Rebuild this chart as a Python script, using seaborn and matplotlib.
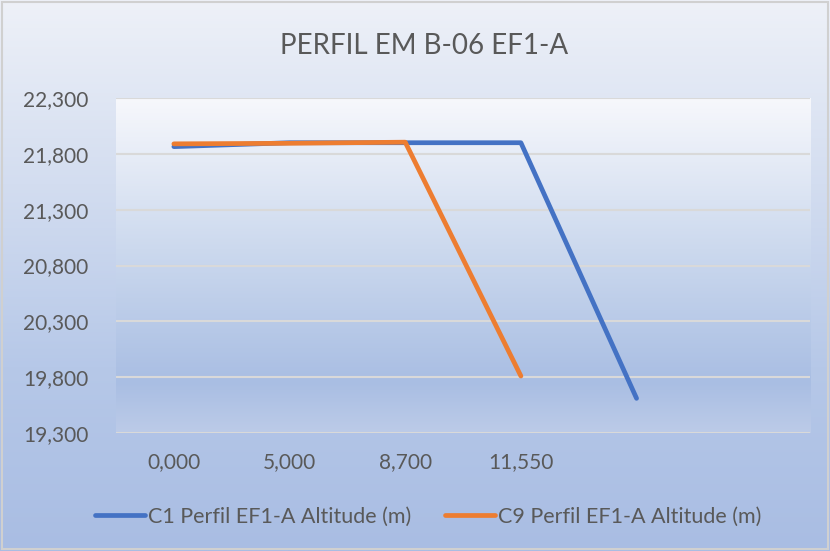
import numpy as np
import pandas as pd
import seaborn as sns
import matplotlib.pyplot as plt
from matplotlib.colors import LinearSegmentedColormap

# data
x_labels = ["0,000", "5,000", "8,700", "11,550"]
c1_altitude = [21865, 21900, 21900, 21900, 19610]
c9_altitude = [21890, 21895, 21905, 19810]
series_names = ["C1 Perfil EF1-A Altitude (m)", "C9 Perfil EF1-A Altitude (m)"]
y_ticks = [19300, 19800, 20300, 20800, 21300, 21800, 22300]

palette = {series_names[0]: "#4472C4", series_names[1]: "#ED7D31"}
text_color = "#595959"

rows = []
for i, v in enumerate(c1_altitude):
    rows.append({"pos": i, "altitude": v, "serie": series_names[0]})
for i, v in enumerate(c9_altitude):
    rows.append({"pos": i, "altitude": v, "serie": series_names[1]})
df = pd.DataFrame.from_records(rows)

sns.set_theme(style="white")
plt.rcParams['font.family'] = ['Lato', 'DejaVu Sans']

fig = plt.figure(figsize=(8.3, 5.51), dpi=100)

# figure background gradient
bg = fig.add_axes([0, 0, 1, 1], zorder=-10)
fig_cmap = LinearSegmentedColormap.from_list("figbg", ["#eef1f8", "#d3ddf0", "#b6c8e8", "#a9bde3"])
bg.imshow(np.linspace(0, 1, 256).reshape(-1, 1), aspect="auto", cmap=fig_cmap,
          extent=[0, 1, 0, 1], origin="upper")
bg.add_patch(plt.Rectangle((0.002, 0.003), 0.996, 0.994, fill=False, edgecolor="#d0d0d0", lw=1.5))
bg.set_xlim(0, 1)
bg.set_ylim(0, 1)
bg.axis("off")

ax = fig.add_axes([0.1398, 0.2142, 0.8362, 0.6078])
ax.patch.set_alpha(0)

# plot area gradient
area_cmap = LinearSegmentedColormap.from_list("areabg", [(0, "#f7f8fc"), (0.45, "#ccd9ee"),
                                                          (0.85, "#a9bee3"), (1, "#bccbe8")])
ax.imshow(np.linspace(0, 1, 256).reshape(-1, 1), aspect="auto", cmap=area_cmap,
          extent=[-0.5, 5.5, 19300, 22300], origin="upper", zorder=0)

for t in y_ticks:
    ax.axhline(t, color="#d9d9d9", lw=1.5, zorder=1)

sns.lineplot(data=df, x="pos", y="altitude", hue="serie", palette=palette,
             linewidth=3.4, ax=ax, legend=False, zorder=3,
             solid_capstyle="round", solid_joinstyle="round")

ax.set_xlim(-0.5, 5.5)
ax.set_ylim(19300, 22300)
ax.set_xticks(range(len(x_labels)))
ax.set_xticklabels(x_labels)
ax.set_yticks(y_ticks)
ax.set_yticklabels([f"{t:,}" for t in y_ticks])
ax.tick_params(axis="both", length=0, labelsize=15, colors=text_color)
ax.tick_params(axis="x", pad=14)
ax.tick_params(axis="y", pad=20)
ax.set_xlabel('')
ax.set_ylabel('')
for s in ax.spines.values():
    s.set_visible(False)

fig.text(0.511, 0.917, "PERFIL EM B-06 EF1-A", ha="center", va="center",
         fontsize=20, color=text_color)

handles = [plt.Line2D([], [], color=palette[n], lw=3.4, solid_capstyle="round") for n in series_names]
fig.legend(handles, series_names, loc="center", bbox_to_anchor=(0.516, 0.062), ncol=2,
           frameon=False, fontsize=15.5, labelcolor=text_color, handlelength=2.3,
           handletextpad=0.15, columnspacing=1.6)

plt.savefig("out.png", dpi=100)
plt.close()
